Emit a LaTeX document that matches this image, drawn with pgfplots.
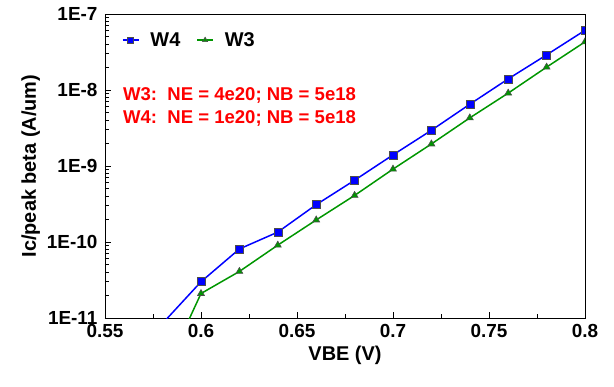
\documentclass[border=0pt]{standalone}
\usepackage{fontspec}
\setmainfont{Liberation Sans}
\usepackage{pgfplots}
\pgfplotsset{compat=1.18}

\definecolor{wblue}{RGB}{0,0,255}
\definecolor{wgreen}{RGB}{0,150,0}
\definecolor{wred}{RGB}{255,0,0}

\begin{document}
\begin{tikzpicture}[x=1bp,y=1bp]
\begin{axis}[
  scale only axis,
  width=480bp, height=304bp,
  xmin=0.55, xmax=0.8,
  ymode=log, ymin=1e-11, ymax=1e-7,
  xtick={0.55,0.6,0.65,0.7,0.75,0.8},
  xticklabels={0.55,0.6,0.65,0.7,0.75,0.8},
  minor x tick num=1,
  ytick={1e-11,1e-10,1e-9,1e-8,1e-7},
  yticklabels={1E-11,1E-10,1E-9,1E-8,1E-7},
  xtick pos=bottom, ytick pos=left,
  tick align=inside,
  major tick length=6bp, minor tick length=4bp,
  every tick/.style={black, line width=0.8pt},
  axis line style={black, line width=0.9pt},
  ticklabel style={font=\fontsize{19}{21}\selectfont\bfseries},
  xticklabel style={yshift=-3bp},
  yticklabel style={xshift=-4bp},
  xlabel={VBE (V)}, ylabel={Ic/peak beta (A/um)},
  label style={font=\fontsize{20}{22}\selectfont\bfseries},
  xlabel style={yshift=-1bp},
  clip marker paths=true,
  legend columns=2,
  legend style={draw=none, fill=none, inner sep=0pt,
    at={(rel axis cs:0.035,0.914)}, anchor=west,
    font=\fontsize{20}{22}\selectfont\bfseries,
    /tikz/every odd column/.append style={column sep=9bp},
    /tikz/every even column/.append style={column sep=14bp}},
  legend image code/.code={
    \draw[mark size=3bp, mark repeat=2, mark phase=2]
      plot coordinates {(0bp,0bp) (8bp,0bp) (16bp,0bp)};},
]
% W4: NE = 1e20, NB = 5e18
\addplot[color=wblue, line width=1.5pt, mark=square*, mark size=4bp,
  mark options={fill=wblue, draw=black!70, line width=0.6pt, solid}]
  coordinates {
  (0.58,8.5e-12) (0.60,3.0e-11) (0.62,8.1e-11) (0.64,1.35e-10)
  (0.66,3.1e-10) (0.68,6.5e-10) (0.70,1.4e-9) (0.72,2.95e-9)
  (0.74,6.5e-9) (0.76,1.4e-8) (0.78,2.9e-8) (0.80,6.1e-8)};
\addlegendentry{W4}
% W3: NE = 4e20, NB = 5e18
\addplot[color=wgreen, line width=1.5pt, mark=triangle*, mark size=4bp,
  mark options={fill=wgreen, draw=black!70, line width=0.6pt, solid}]
  coordinates {
  (0.58,1.7e-12) (0.60,2.1e-11) (0.62,4.1e-11) (0.64,9.1e-11)
  (0.66,1.95e-10) (0.68,4.1e-10) (0.70,9.1e-10) (0.72,1.95e-9)
  (0.74,4.3e-9) (0.76,9.1e-9) (0.78,2.0e-8) (0.80,4.3e-8)};
\addlegendentry{W3}
\node[anchor=west, align=left, inner sep=0pt, text=wred,
  font=\fontsize{18.6}{23.5}\selectfont\bfseries]
  at (rel axis cs:0.0375,0.695)
  {W3:\ \ NE = 4e20; NB = 5e18\\W4:\ \ NE = 1e20; NB = 5e18};
\end{axis}
\pgfresetboundingbox
\path (current axis.south west) ++(-105bp,-69bp) rectangle ++(614bp,387bp);
\end{tikzpicture}
\end{document}
